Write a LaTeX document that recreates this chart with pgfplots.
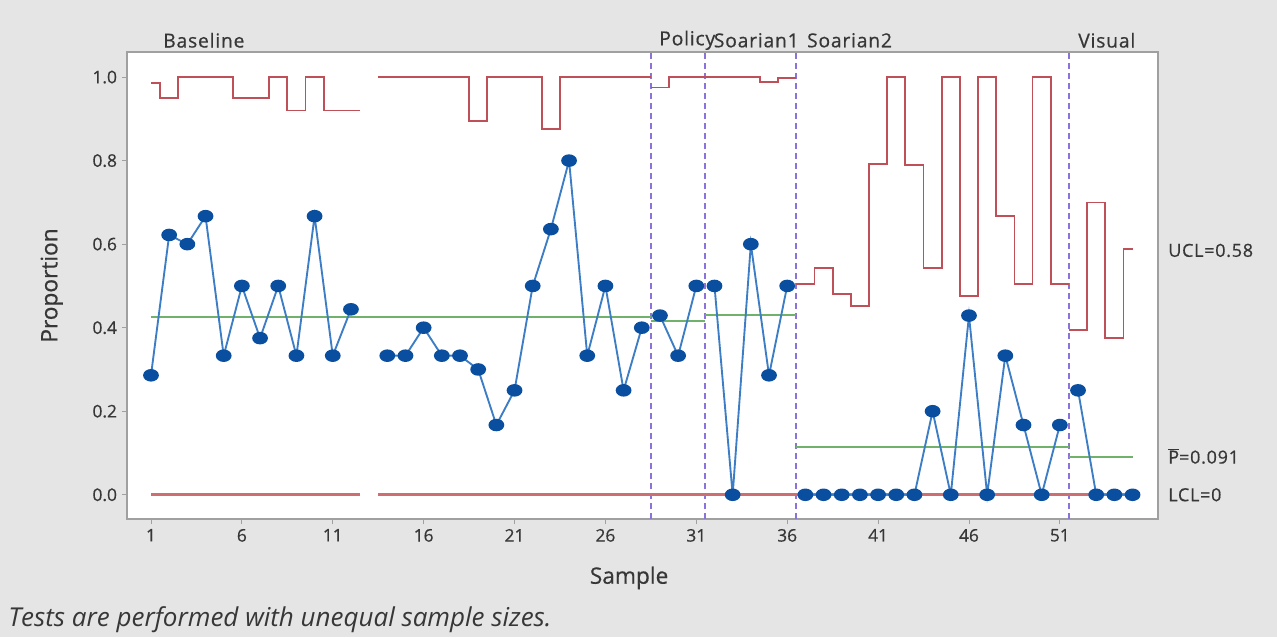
\documentclass[border=0pt]{standalone}
\usepackage{pgfplots}
\pgfplotsset{compat=1.18}
\usepackage{fontspec}
\setmainfont{Open Sans}
\newfontfamily\semib[FakeBold=0.6]{Open Sans}
\newfontfamily\semibw[FakeBold=0.6,LetterSpace=4]{Open Sans}

\definecolor{bgc}{RGB}{229,229,229}
\definecolor{axgray}{RGB}{160,160,160}
\definecolor{txt}{RGB}{55,55,55}
\definecolor{limc}{RGB}{192,80,88}
\definecolor{lclc}{RGB}{205,110,112}
\definecolor{ctrc}{RGB}{112,178,108}
\definecolor{linec}{RGB}{60,125,198}
\definecolor{markc}{RGB}{10,78,160}
\definecolor{stagec}{RGB}{140,115,220}

% proportion per sample (nan = break: missing sample / stage change)
\pgfplotstableread{
s p
1 0.286
2 0.622
3 0.600
4 0.667
5 0.333
6 0.500
7 0.375
8 0.500
9 0.333
10 0.667
11 0.333
12 0.444
13 nan
14 0.333
15 0.333
16 0.400
17 0.333
18 0.333
19 0.300
20 0.167
21 0.250
22 0.500
23 0.636
24 0.800
25 0.333
26 0.500
27 0.250
28 0.400
28.5 nan
29 0.429
30 0.333
31 0.500
31.5 nan
32 0.500
33 0
34 0.600
35 0.286
36 0.500
36.5 nan
37 0
38 0
39 0
40 0
41 0
42 0
43 0
44 0.200
45 0
46 0.429
47 0
48 0.333
49 0.167
50 0
51 0.167
51.5 nan
52 0.250
53 0
54 0
55 0
}\prop

% upper control limits, one table per stage piece
\pgfplotstableread{
s u
1 0.985
2 0.950
3 1.0
4 1.0
5 1.0
6 0.950
7 0.950
8 1.0
9 0.920
10 1.0
11 0.920
12 0.920
12.5 0.920
}\uclA

\pgfplotstableread{
s u
13.5 1.0
14 1.0
15 1.0
16 1.0
17 1.0
18 1.0
19 0.895
20 1.0
21 1.0
22 1.0
23 0.875
24 1.0
25 1.0
26 1.0
27 1.0
28 1.0
28.5 1.0
}\uclB

\pgfplotstableread{
s u
28.5 0.975
29 0.975
30 1.0
31 1.0
31.5 1.0
}\uclC

\pgfplotstableread{
s u
31.5 1.0
32 1.0
33 1.0
34 1.0
35 0.988
36 0.997
36.5 0.997
}\uclD

\pgfplotstableread{
s u
36.5 0.505
37 0.505
38 0.543
39 0.480
40 0.452
41 0.792
42 1.0
43 0.790
44 0.543
45 1.0
46 0.476
47 1.0
48 0.667
49 0.505
50 1.0
51 0.505
51.5 0.505
}\uclE

\pgfplotstableread{
s u
51.5 0.395
52 0.395
53 0.700
54 0.376
55 0.589
}\uclF

\begin{document}
\begin{tikzpicture}[
  lab/.style={anchor=west, inner sep=0pt, text=txt, font=\semibw\fontsize{13.5}{15}\selectfont},
  stg/.style={anchor=west, inner sep=0pt, text=txt, font=\semibw\fontsize{14.5}{16}\selectfont},
]
\useasboundingbox (0,0) rectangle (957.75pt,477.75pt);
\fill[bgc] (0,0) rectangle (957.75pt,477.75pt);
\begin{axis}[
  at={(95.25pt,88.5pt)}, anchor=south west,
  width=773.25pt, height=350.25pt, scale only axis,
  xmin=-0.32, xmax=56.4, ymin=-0.058, ymax=1.06,
  clip=false,
  axis background/.style={fill=white},
  axis line style={draw=axgray, line width=0.9pt},
  tick style={draw=axgray, line width=0.6pt},
  tick align=outside, major tick length=4pt,
  xtick={1,6,11,16,21,26,31,36,41,46,51},
  ytick={0,0.2,0.4,0.6,0.8,1},
  xtick pos=bottom, ytick pos=left,
  /pgf/number format/assume math mode=true,
  yticklabel style={/pgf/number format/fixed, /pgf/number format/fixed zerofill,
    /pgf/number format/precision=1, font=\semib\fontsize{13}{15}\selectfont, text=txt},
  xticklabel style={font=\semib\fontsize{13}{15}\selectfont, text=txt},
  xlabel={Sample}, ylabel={Proportion},
  xlabel style={font=\semib\fontsize{17}{20}\selectfont, text=txt,
    at={(axis description cs:0.487,-0.126)}, anchor=center},
  ylabel style={font=\semib\fontsize{17}{20}\selectfont, text=txt,
    at={(axis description cs:-0.073,0.5)}, anchor=center, rotate=0},
  stage/.style={stagec, line width=1.3pt, dash pattern=on 4.5pt off 3pt},
  ucl/.style={limc, line width=1.3pt, const plot mark mid},
  ctr/.style={ctrc, line width=1.4pt},
]
% stage boundaries
\addplot[stage] coordinates {(28.5,-0.058) (28.5,1.06)};
\addplot[stage] coordinates {(31.47,-0.058) (31.47,1.06)};
\addplot[stage] coordinates {(36.5,-0.058) (36.5,1.06)};
\addplot[stage] coordinates {(51.5,-0.058) (51.5,1.06)};
% upper control limits
\addplot[ucl] table[x=s,y=u] {\uclA};
\addplot[ucl] table[x=s,y=u] {\uclB};
\addplot[ucl] table[x=s,y=u] {\uclC};
\addplot[ucl] table[x=s,y=u] {\uclD};
\addplot[ucl] table[x=s,y=u] {\uclE};
\addplot[ucl] table[x=s,y=u] {\uclF};
% lower control limit
\addplot[lclc, line width=2pt] coordinates {(1,0) (12.5,0)};
\addplot[lclc, line width=2pt] coordinates {(13.5,0) (55,0)};
% center lines
\addplot[ctr] coordinates {(1,0.426) (28.5,0.426)};
\addplot[ctr] coordinates {(28.5,0.416) (31.5,0.416)};
\addplot[ctr] coordinates {(31.5,0.430) (36.5,0.430)};
\addplot[ctr] coordinates {(36.5,0.115) (51.5,0.115)};
\addplot[ctr] coordinates {(51.5,0.091) (55,0.091)};
% data
\addplot[linec, line width=1.4pt, unbounded coords=jump,
  mark=*, mark size=4pt, mark options={fill=markc, draw=markc, xscale=1.3}]
  table[x=s,y=p] {\prop};
% stage names
\node[stg] at (axis cs:1.66,1.088) {Baseline};
\node[stg] at (axis cs:28.95,1.088) {Policy};
\node[stg] at (axis cs:31.95,1.088) {Soarian1};
\node[stg] at (axis cs:37.08,1.088) {Soarian2};
\node[stg] at (axis cs:52.0,1.088) {Visual};
% limit labels
\node[lab] at (axis cs:56.95,0.585) {UCL=0.58};
\node[lab] at (axis cs:56.95,0.093) {$\overline{\mbox{P}}$=0.091};
\node[lab] at (axis cs:56.95,0.0) {LCL=0};
\end{axis}
\node[anchor=west, inner sep=0pt, text=txt, font=\itshape\fontsize{19.5}{22}\selectfont]
  at (6pt,12.75pt) {Tests are performed with unequal sample sizes.};
\end{tikzpicture}
\end{document}
